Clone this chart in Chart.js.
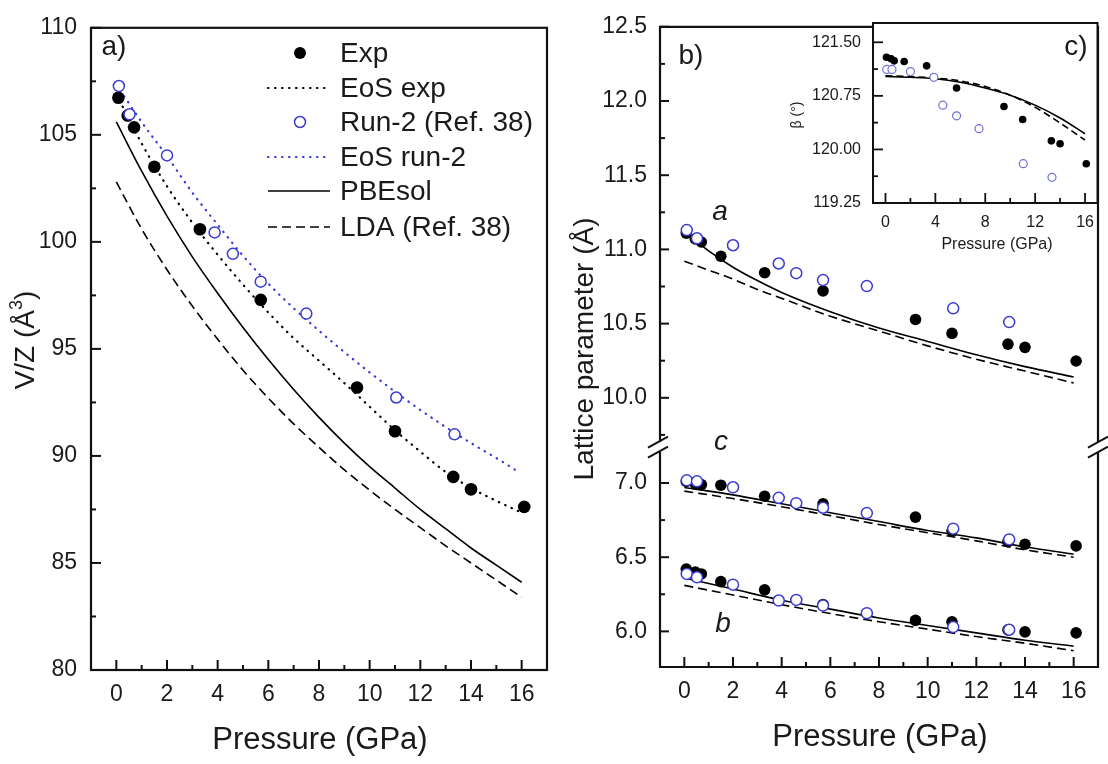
<!DOCTYPE html>
<html><head><meta charset="utf-8">
<script src="https://cdn.jsdelivr.net/npm/chart.js@4.4.0/dist/chart.umd.min.js"></script>
<style>
html,body{margin:0;padding:0;background:#fff;}
#wrap{position:relative;width:1108px;height:764px;overflow:hidden;background:#fff;}
canvas{position:absolute;}
</style></head><body>
<div id="wrap">
<canvas id="ca" width="555" height="764" style="left:0;top:0"></canvas>
<canvas id="cb" width="553" height="764" style="left:555px;top:0"></canvas>
<canvas id="cc" width="328" height="262" style="left:780px;top:0"></canvas>
</div>
<script>
// ---------------- DATA ----------------
// Panel a) V/Z vs pressure
const P_EXP  = [0.08, 0.45, 0.7, 1.5, 3.3, 5.7, 9.5, 11.0, 13.3, 14.0, 16.1];
const V_EXP  = [106.73, 105.9, 105.35, 103.51, 100.59, 97.29, 93.2, 91.15, 89.02, 88.44, 87.62];
const P_RUN2 = [0.1, 0.52, 2.0, 3.88, 4.6, 5.7, 7.5, 11.05, 13.35];
const V_RUN2 = [107.28, 105.96, 104.04, 100.44, 99.44, 98.14, 96.65, 92.73, 91.01];
const P_CURVE = [0,1,2,3,4,5,6,7,8,9,10,11,12,13,14,15,16];
const V_EOS_EXP = [106.9,104.6,102.6,100.9,99.4,98.0,96.7,95.5,94.45,93.4,92.3,91.2,90.2,89.25,88.5,87.9,87.35];
const P_EOS_RUN2 = [0,1,2,3,4,5,6,7,8,9,10,11,12,13,14,15,15.75];
const V_EOS_RUN2 = [107.35,105.6,104.0,102.3,100.8,99.35,98.05,96.9,95.85,94.85,93.9,93.0,92.15,91.35,90.6,89.9,89.35];
const V_PBESOL = [105.6,103.3,101.2,99.3,97.6,96.0,94.5,93.1,91.8,90.6,89.5,88.5,87.5,86.6,85.7,84.9,84.1];
const V_LDA    = [102.8,100.6,98.7,97.0,95.45,94.0,92.7,91.5,90.4,89.35,88.4,87.5,86.65,85.8,85.0,84.2,83.4];

// Panel b) lattice parameters
const A_EXP  = [11.11, 11.07, 11.05, 10.954, 10.843, 10.72, 10.528, 10.434, 10.362, 10.34, 10.248];
const C_EXP  = [7.01, 6.995, 6.989, 6.985, 6.911, 6.86, 6.77, 6.676, 6.605, 6.587, 6.576];
const B_EXP  = [6.42, 6.40, 6.387, 6.335, 6.28, 6.18, 6.074, 6.065, 6.01, 5.997, 5.99];
const A_RUN2 = [11.13, 11.075, 11.028, 10.905, 10.84, 10.793, 10.753, 10.603, 10.51];
const C_RUN2 = [7.018, 7.011, 6.971, 6.9, 6.864, 6.833, 6.797, 6.692, 6.62];
const B_RUN2 = [6.387, 6.364, 6.315, 6.208, 6.212, 6.174, 6.123, 6.029, 6.011];
const P_A_CURVE = [0,1,2,3,4,6,8,10,12,14,16];
const A_PBESOL = [11.12,10.99,10.88,10.79,10.71,10.58,10.47,10.38,10.29,10.21,10.14];
const A_LDA    = [10.92,10.86,10.80,10.73,10.67,10.55,10.45,10.35,10.26,10.18,10.10];
const P_BC_CURVE = [0,2,4,6,8,10,12,14,16];
const C_PBESOL = [6.97,6.92,6.86,6.80,6.74,6.68,6.63,6.57,6.52];
const C_LDA    = [6.945,6.895,6.84,6.78,6.72,6.665,6.61,6.55,6.50];
const B_PBESOL = [6.36,6.285,6.21,6.15,6.09,6.04,5.99,5.94,5.90];
const B_LDA    = [6.31,6.245,6.18,6.12,6.065,6.015,5.965,5.92,5.87];

// Inset c) beta angle
const BETA_EXP  = [121.29, 121.27, 121.24, 121.23, 121.17, 120.86, 120.60, 120.42, 120.12, 120.08, 119.80];
const BETA_RUN2 = [121.12, 121.12, 121.09, 121.01, 120.62, 120.47, 120.29, 119.80, 119.61];
const P_BETA_CURVE = [0,2,4,6,8,10,12,14,16];
const BETA_PBESOL = [121.02,121.01,120.99,120.94,120.86,120.76,120.62,120.44,120.22];
const BETA_LDA    = [121.03,121.02,121.00,120.96,120.88,120.76,120.59,120.37,120.13];

// Ticks
const X_TICKS = [0,2,4,6,8,10,12,14,16];
const X_MINOR = [1,3,5,7,9,11,13,15];
const VA_TICKS = [80,85,90,95,100,105,110];
const VA_MINOR = [82.5,87.5,92.5,97.5,102.5,107.5];
const LAT_HIGH_TICKS = [10.0,10.5,11.0,11.5,12.0,12.5];
const LAT_HIGH_MINOR = [9.75,10.25,10.75,11.25,11.75,12.25];
const LAT_LOW_TICKS = [6.0,6.5,7.0];
const LAT_LOW_MINOR = [6.25,6.75];
const XC_TICKS = [0,4,8,12,16];
const XC_MINOR = [2,6,10,14];
const BETA_TICKS = [119.25,120.00,120.75,121.50];
const BETA_MINOR = [119.625,120.375,121.125];

// Axis ranges
const X_RANGE = [-1, 17];
const VA_RANGE = [80, 110];
const LAT_HIGH_RANGE = [9.668, 12.5];
const LAT_LOW_RANGE = [5.76, 7.242];
const BETA_RANGE = [119.25, 121.77];

// ---------------- STYLE ----------------
const FONT = "'Liberation Sans', Arial, Helvetica, sans-serif";
const TXT = '#1a1a1a';
const BLUE = '#3a3ad4';
const BLUE_IN = '#7070d6';
const pts = (xs, ys) => xs.map((x, i) => ({x: x, y: ys[i]}));

function linScale(range, ticks, fmt, size, pad, fit, extra) {
  return Object.assign({
    type: 'linear', min: range[0], max: range[1],
    grid: {display: false, drawTicks: false, drawOnChartArea: false},
    border: {display: false},
    afterBuildTicks: s => { s.ticks = ticks.map(v => ({value: v})); },
    afterFit: fit,
    ticks: {autoSkip: false, maxRotation: 0, minRotation: 0, padding: pad, color: TXT,
            font: {family: FONT, size: size}, callback: v => fmt(v)}
  }, extra || {});
}
function tickX(ctx, s, y, vals, len) {
  vals.forEach(v => { const p = s.getPixelForValue(v); ctx.beginPath(); ctx.moveTo(p, y); ctx.lineTo(p, y - len); ctx.stroke(); });
}
function tickY(ctx, s, x, vals, len) {
  vals.forEach(v => { const p = s.getPixelForValue(v); ctx.beginPath(); ctx.moveTo(x, p); ctx.lineTo(x + len, p); ctx.stroke(); });
}
function scatterSet(label, data, filled, r, color, bw, yID) {
  const d = {type: 'scatter', label: label, data: data, showLine: false, pointRadius: r, pointHoverRadius: r,
    pointBackgroundColor: filled ? '#000' : '#fff', pointBorderColor: filled ? '#000' : color,
    pointBorderWidth: filled ? 0 : bw};
  if (yID) d.yAxisID = yID;
  return d;
}
function lineSet(label, data, color, width, dash, cap, yID) {
  const d = {type: 'line', label: label, data: data, borderColor: color, borderWidth: width,
    borderDash: dash, borderCapStyle: cap || 'butt', pointRadius: 0, fill: false,
    cubicInterpolationMode: 'monotone'};
  if (yID) d.yAxisID = yID;
  return d;
}
const commonOpts = {
  responsive: false, animation: false, events: [],
  plugins: {legend: {display: false}, tooltip: {enabled: false}}
};
function rotText(ctx, x, y, parts) {
  ctx.save(); ctx.translate(x, y); ctx.rotate(-Math.PI / 2);
  let total = 0;
  parts.forEach(p => { ctx.font = p.font; p.w = ctx.measureText(p.t).width; total += p.w; });
  let cx = -total / 2;
  ctx.textAlign = 'left'; ctx.textBaseline = 'middle';
  parts.forEach(p => { ctx.font = p.font; ctx.fillText(p.t, cx, p.dy || 0); cx += p.w; });
  ctx.restore();
}

// ---------------- PANEL a ----------------
const legendRows = [
  {kind: 'dot', y: 53},
  {kind: 'line', color: '#000', dash: [0.5, 6.5], cap: 'round', w: 2.2, y: 88},
  {kind: 'circle', y: 122},
  {kind: 'line', color: BLUE, dash: [0.5, 6.5], cap: 'round', w: 2.2, y: 157},
  {kind: 'line', color: '#000', dash: [], cap: 'butt', w: 1.6, y: 191},
  {kind: 'line', color: '#000', dash: [9, 5], cap: 'butt', w: 1.6, y: 227}
];
const legendLabels = ['Exp', 'EoS exp', 'Run-2 (Ref. 38)', 'EoS run-2', 'PBEsol', 'LDA (Ref. 38)'];

const plugA = {
  id: 'plugA',
  afterDraw(chart) {
    const ctx = chart.ctx, ca = chart.chartArea, x = chart.scales.x, y = chart.scales.y;
    ctx.save();
    ctx.strokeStyle = '#111'; ctx.lineWidth = 2.2;
    ctx.strokeRect(ca.left, ca.top, ca.right - ca.left, ca.bottom - ca.top);
    ctx.lineWidth = 2;
    tickX(ctx, x, ca.bottom, X_TICKS, 10); tickX(ctx, x, ca.bottom, X_MINOR, 5);
    tickY(ctx, y, ca.left, VA_TICKS, 10); tickY(ctx, y, ca.left, VA_MINOR, 5);
    ctx.fillStyle = TXT;
    ctx.font = '31px ' + FONT; ctx.textAlign = 'center'; ctx.textBaseline = 'middle';
    ctx.fillText('Pressure (GPa)', 320, 740);
    ctx.font = '28px ' + FONT;
    ctx.fillText('a)', 114, 47);
    rotText(ctx, 26, 340, [
      {t: 'V/Z (Å', font: '28px ' + FONT},
      {t: '3', font: '18px ' + FONT, dy: -9},
      {t: ')', font: '28px ' + FONT}
    ]);
    // legend
    legendRows.forEach((r, i) => {
      if (r.kind === 'dot') {
        ctx.fillStyle = '#000'; ctx.beginPath(); ctx.arc(300, r.y, 6, 0, Math.PI * 2); ctx.fill();
      } else if (r.kind === 'circle') {
        ctx.strokeStyle = BLUE; ctx.lineWidth = 1.5; ctx.setLineDash([]);
        ctx.beginPath(); ctx.arc(300, r.y, 5.5, 0, Math.PI * 2); ctx.stroke();
      } else {
        ctx.strokeStyle = r.color; ctx.lineWidth = r.w; ctx.setLineDash(r.dash); ctx.lineCap = r.cap;
        ctx.beginPath(); ctx.moveTo(268, r.y); ctx.lineTo(330, r.y); ctx.stroke();
        ctx.setLineDash([]); ctx.lineCap = 'butt';
      }
      ctx.fillStyle = TXT; ctx.font = '28px ' + FONT; ctx.textAlign = 'left'; ctx.textBaseline = 'middle';
      ctx.fillText(legendLabels[i], 340, r.y + 1);
    });
    ctx.restore();
  }
};

new Chart(document.getElementById('ca'), {
  type: 'scatter',
  data: {datasets: [
    scatterSet('Run-2 (Ref. 38)', pts(P_RUN2, V_RUN2), false, 5.5, BLUE, 1.5),
    scatterSet('Exp', pts(P_EXP, V_EXP), true, 6.3),
    lineSet('EoS exp', pts(P_CURVE, V_EOS_EXP), '#000', 2.2, [0.5, 6.5], 'round'),
    lineSet('EoS run-2', pts(P_EOS_RUN2, V_EOS_RUN2), BLUE, 2.2, [0.5, 6.5], 'round'),
    lineSet('PBEsol', pts(P_CURVE, V_PBESOL), '#000', 1.6, []),
    lineSet('LDA (Ref. 38)', pts(P_CURVE, V_LDA), '#000', 1.6, [9, 5])
  ]},
  options: Object.assign({}, commonOpts, {
    layout: {padding: {left: 0, top: 18.3, right: 8, bottom: 0}},
    scales: {
      x: linScale(X_RANGE, X_TICKS, v => String(v), 23, 11.2, s => { s.height = 94; }),
      y: linScale(VA_RANGE, VA_TICKS, v => String(v), 23, 14, s => { s.width = 91; })
    }
  }),
  plugins: [plugA]
});

// ---------------- PANEL b ----------------
const plugB = {
  id: 'plugB',
  afterDraw(chart) {
    const ctx = chart.ctx, ca = chart.chartArea, x = chart.scales.x;
    const yH = chart.scales.yHigh, yL = chart.scales.yLow;
    const brk = (yH.bottom + yL.top) / 2;
    ctx.save();
    ctx.strokeStyle = '#111'; ctx.lineWidth = 2.2;
    ctx.beginPath();
    ctx.moveTo(ca.left, brk - 5); ctx.lineTo(ca.left, ca.top); ctx.lineTo(ca.right, ca.top); ctx.lineTo(ca.right, brk - 5);
    ctx.moveTo(ca.right, brk + 5); ctx.lineTo(ca.right, ca.bottom); ctx.lineTo(ca.left, ca.bottom); ctx.lineTo(ca.left, brk + 5);
    ctx.stroke();
    // break marks
    ctx.lineWidth = 2;
    [ca.left - 2, ca.right].forEach(bx => {
      [-5, 5].forEach(off => {
        ctx.beginPath(); ctx.moveTo(bx - 10, brk + off + 5.5); ctx.lineTo(bx + 10, brk + off - 5.5); ctx.stroke();
      });
    });
    ctx.lineWidth = 2;
    tickX(ctx, x, ca.bottom, X_TICKS, 10); tickX(ctx, x, ca.bottom, X_MINOR, 5);
    tickY(ctx, yH, ca.left, LAT_HIGH_TICKS, 9); tickY(ctx, yH, ca.left, LAT_HIGH_MINOR, 5);
    tickY(ctx, yL, ca.left, LAT_LOW_TICKS, 9); tickY(ctx, yL, ca.left, LAT_LOW_MINOR, 5);
    ctx.fillStyle = TXT; ctx.textAlign = 'center'; ctx.textBaseline = 'middle';
    ctx.font = '31px ' + FONT;
    ctx.fillText('Pressure (GPa)', 325, 737);
    ctx.font = '28px ' + FONT;
    ctx.fillText('b)', 136, 56);
    ctx.font = 'italic 28px ' + FONT;
    ctx.fillText('a', 165, 212);
    ctx.fillText('c', 166, 442);
    ctx.fillText('b', 168, 624);
    rotText(ctx, 30, 349, [{t: 'Lattice parameter (Å)', font: '28px ' + FONT}]);
    ctx.restore();
  }
};

new Chart(document.getElementById('cb'), {
  type: 'scatter',
  data: {datasets: [
    scatterSet('a Run-2', pts(P_RUN2, A_RUN2), false, 5.5, BLUE, 1.5, 'yHigh'),
    scatterSet('c Run-2', pts(P_RUN2, C_RUN2), false, 5.5, BLUE, 1.5, 'yLow'),
    scatterSet('b Run-2', pts(P_RUN2, B_RUN2), false, 5.5, BLUE, 1.5, 'yLow'),
    scatterSet('a Exp', pts(P_EXP, A_EXP), true, 5.8, null, 0, 'yHigh'),
    scatterSet('c Exp', pts(P_EXP, C_EXP), true, 5.8, null, 0, 'yLow'),
    scatterSet('b Exp', pts(P_EXP, B_EXP), true, 5.8, null, 0, 'yLow'),
    lineSet('a PBEsol', pts(P_A_CURVE, A_PBESOL), '#000', 1.6, [], 'butt', 'yHigh'),
    lineSet('a LDA', pts(P_A_CURVE, A_LDA), '#000', 1.6, [9, 5], 'butt', 'yHigh'),
    lineSet('c PBEsol', pts(P_BC_CURVE, C_PBESOL), '#000', 1.6, [], 'butt', 'yLow'),
    lineSet('c LDA', pts(P_BC_CURVE, C_LDA), '#000', 1.6, [9, 5], 'butt', 'yLow'),
    lineSet('b PBEsol', pts(P_BC_CURVE, B_PBESOL), '#000', 1.6, [], 'butt', 'yLow'),
    lineSet('b LDA', pts(P_BC_CURVE, B_LDA), '#000', 1.6, [9, 5], 'butt', 'yLow')
  ]},
  options: Object.assign({}, commonOpts, {
    layout: {padding: {left: 0, top: 23, right: 10, bottom: 0}},
    scales: {
      x: linScale(X_RANGE, X_TICKS, v => String(v), 23, 11.2, s => { s.height = 97; }),
      yLow: linScale(LAT_LOW_RANGE, LAT_LOW_TICKS, v => v.toFixed(1), 23, 13, s => { s.width = 105; },
        {position: 'left', stack: 'lat', stackWeight: LAT_LOW_RANGE[1] - LAT_LOW_RANGE[0]}),
      yHigh: linScale(LAT_HIGH_RANGE, LAT_HIGH_TICKS, v => v.toFixed(1), 23, 13, s => { s.width = 105; },
        {position: 'left', stack: 'lat', stackWeight: LAT_HIGH_RANGE[1] - LAT_HIGH_RANGE[0]})
    }
  }),
  plugins: [plugB]
});

// ---------------- INSET c ----------------
const plugC = {
  id: 'plugC',
  afterDraw(chart) {
    const ctx = chart.ctx, ca = chart.chartArea, x = chart.scales.x, y = chart.scales.y;
    ctx.save();
    ctx.strokeStyle = '#111'; ctx.lineWidth = 2;
    ctx.strokeRect(ca.left, ca.top, ca.right - ca.left, ca.bottom - ca.top);
    ctx.lineWidth = 1.8;
    tickX(ctx, x, ca.bottom, XC_TICKS, 10); tickX(ctx, x, ca.bottom, XC_MINOR, 5);
    tickY(ctx, y, ca.left, BETA_TICKS, 10); tickY(ctx, y, ca.left, BETA_MINOR, 5);
    ctx.fillStyle = TXT; ctx.textAlign = 'center'; ctx.textBaseline = 'middle';
    ctx.font = '16px ' + FONT;
    ctx.fillText('Pressure (GPa)', 217, 245);
    ctx.font = '28px ' + FONT;
    ctx.fillText('c)', 296, 47);
    rotText(ctx, 17, 115, [{t: 'β (°)', font: '14px ' + FONT}]);
    ctx.restore();
  },
  beforeDatasetsDraw(chart) {
    const ctx = chart.ctx, ca = chart.chartArea;
    ctx.save(); ctx.fillStyle = '#fff'; ctx.fillRect(ca.left, ca.top, ca.right - ca.left, ca.bottom - ca.top); ctx.restore();
  }
};

new Chart(document.getElementById('cc'), {
  type: 'scatter',
  data: {datasets: [
    scatterSet('beta Run-2', pts(P_RUN2, BETA_RUN2), false, 4, BLUE_IN, 1.2),
    scatterSet('beta Exp', pts(P_EXP, BETA_EXP), true, 3.8),
    lineSet('beta PBEsol', pts(P_BETA_CURVE, BETA_PBESOL), '#000', 1.6, []),
    lineSet('beta LDA', pts(P_BETA_CURVE, BETA_LDA), '#000', 1.6, [7, 4])
  ]},
  options: Object.assign({}, commonOpts, {
    layout: {padding: {left: 0, top: 23, right: 10.5, bottom: 0}},
    scales: {
      x: linScale(X_RANGE, XC_TICKS, v => String(v), 16, 10.4, s => { s.height = 59; }),
      y: linScale(BETA_RANGE, BETA_TICKS, v => v.toFixed(2), 16, 12, s => { s.width = 93; })
    }
  }),
  plugins: [plugC]
});
</script>
</body></html>
